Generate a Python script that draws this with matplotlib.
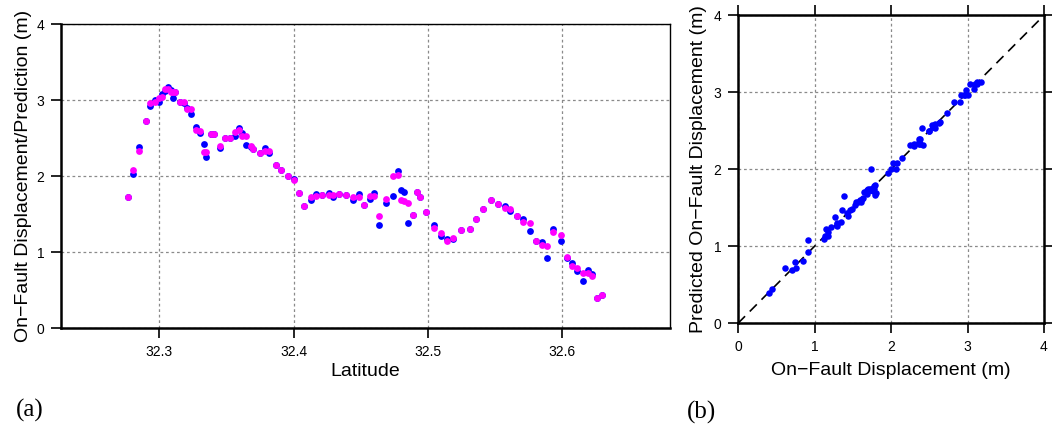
import numpy as np
import matplotlib
matplotlib.use('Agg')
from matplotlib import pyplot as plt

# latitude of each measurement, observed on-fault displacement, model prediction (m)
latitude = [32.2770, 32.2807, 32.2849, 32.2899, 32.2931, 32.2968, 32.3000, 32.3020,
            32.3045, 32.3067, 32.3090, 32.3104, 32.3115, 32.3154, 32.3186, 32.3210,
            32.3240, 32.3272, 32.3302, 32.3335, 32.3350, 32.3384, 32.3409, 32.3455,
            32.3490, 32.3525, 32.3562, 32.3592, 32.3620, 32.3645, 32.3680, 32.3700,
            32.3748, 32.3790, 32.3820, 32.3866, 32.3908, 32.3957, 32.4000, 32.4040,
            32.4080, 32.4131, 32.4170, 32.4210, 32.4260, 32.4290, 32.4340, 32.4388,
            32.4440, 32.4485, 32.4522, 32.4571, 32.4600, 32.4638, 32.4688, 32.4742,
            32.4776, 32.4801, 32.4825, 32.4850, 32.4886, 32.4915, 32.4940, 32.4987,
            32.5045, 32.5095, 32.5144, 32.5186, 32.5248, 32.5311, 32.5355, 32.5411,
            32.5467, 32.5524, 32.5569, 32.5609, 32.5660, 32.5710, 32.5757, 32.5806,
            32.5846, 32.5886, 32.5933, 32.5989, 32.6036, 32.6073, 32.6111, 32.6153,
            32.6188, 32.6220, 32.6260, 32.6294]
observed = [1.72, 2.02, 2.38, 2.73, 2.92, 3.00, 2.98, 3.08,
            3.12, 3.17, 3.13, 3.03, 3.10, 2.97, 2.96, 2.90,
            2.82, 2.64, 2.57, 2.42, 2.25, 2.55, 2.55, 2.37,
            2.50, 2.50, 2.53, 2.63, 2.57, 2.41, 2.38, 2.36,
            2.30, 2.37, 2.30, 2.15, 2.08, 2.00, 1.96, 1.78,
            1.60, 1.69, 1.76, 1.75, 1.78, 1.73, 1.76, 1.75,
            1.68, 1.76, 1.62, 1.70, 1.77, 1.36, 1.65, 1.74,
            2.07, 1.81, 1.79, 1.38, 1.49, 1.79, 1.73, 1.53,
            1.35, 1.21, 1.17, 1.17, 1.29, 1.30, 1.43, 1.57,
            1.68, 1.63, 1.61, 1.54, 1.47, 1.44, 1.27, 1.14,
            1.13, 0.92, 1.30, 1.15, 0.92, 0.85, 0.75, 0.62,
            0.76, 0.71, 0.40, 0.44]
predicted = [1.73, 2.08, 2.33, 2.73, 2.96, 2.97, 3.03, 3.04,
             3.14, 3.14, 3.11, 3.11, 3.11, 2.97, 2.97, 2.88,
             2.88, 2.61, 2.59, 2.32, 2.32, 2.55, 2.55, 2.40,
             2.50, 2.50, 2.58, 2.60, 2.53, 2.53, 2.40, 2.36,
             2.30, 2.33, 2.33, 2.15, 2.08, 2.00, 1.95, 1.78,
             1.60, 1.73, 1.74, 1.75, 1.75, 1.75, 1.76, 1.75,
             1.72, 1.72, 1.62, 1.74, 1.74, 1.47, 1.70, 2.00,
             2.01, 1.69, 1.67, 1.65, 1.49, 1.79, 1.73, 1.53,
             1.31, 1.25, 1.14, 1.19, 1.29, 1.30, 1.43, 1.57,
             1.68, 1.63, 1.58, 1.57, 1.47, 1.40, 1.38, 1.14,
             1.09, 1.08, 1.26, 1.23, 0.93, 0.81, 0.79, 0.72,
             0.72, 0.69, 0.40, 0.44]

plt.rcParams['font.family'] = ['Liberation Sans', 'DejaVu Sans']
plt.rcParams['axes.unicode_minus'] = True

fig = plt.figure(figsize=(10.52, 4.28), dpi=100)
W, H = 1052, 428

grid_kw = dict(color='#8a8a8a', linewidth=0.9, linestyle=(0, (2.2, 2.2)))

# (a) displacement along strike
ax1 = fig.add_axes([61 / W, 100 / H, 609 / W, 304 / H])
ax1.scatter(latitude, observed, s=24, color='#0000ff', linewidths=0, zorder=3)
ax1.scatter(latitude, predicted, s=24, color='#ff00ff', linewidths=0, zorder=4)
ax1.set_xlim(32.227, 32.680)
ax1.set_ylim(0, 4)
ax1.set_xticks([32.3, 32.4, 32.5, 32.6])
ax1.set_yticks([0, 1, 2, 3, 4])
ax1.set_axisbelow(True)
ax1.grid(True, **grid_kw)
for side in ['left', 'bottom']:
    ax1.spines[side].set_linewidth(1.8)
for side in ['top', 'right']:
    ax1.spines[side].set_linewidth(1.0)
ax1.tick_params(direction='out', length=7, width=1.2, labelsize=10, pad=5,
                top=False, right=False)
ax1.set_xlabel('Latitude', fontsize=14)
ax1.set_ylabel('On\u2212Fault Displacement/Prediction (m)', fontsize=14)
ax1.xaxis.set_label_coords(0.5, -0.115)
ax1.yaxis.set_label_coords(-0.048, 0.5)

# (b) observed vs predicted
ax2 = fig.add_axes([738 / W, 104.7 / H, 306 / W, 308 / H])
ax2.plot([0, 4], [0, 4], color='black', linewidth=1.2, linestyle=(0, (6, 4)), zorder=2)
ax2.scatter(observed, predicted, s=22, color='#0000ff', linewidths=0, zorder=3)
ax2.set_xlim(0, 4)
ax2.set_ylim(0, 4)
ax2.set_xticks([0, 1, 2, 3, 4])
ax2.set_yticks([0, 1, 2, 3, 4])
ax2.set_axisbelow(True)
ax2.grid(True, **grid_kw)
for side in ['left', 'bottom', 'top', 'right']:
    ax2.spines[side].set_linewidth(1.8)
ax2.tick_params(direction='out', length=7, width=1.2, labelsize=10, pad=5,
                top=True, right=True)
ax2.set_xlabel('On\u2212Fault Displacement (m)', fontsize=14)
ax2.set_ylabel('Predicted On\u2212Fault Displacement (m)', fontsize=14)
ax2.xaxis.set_label_coords(0.5, -0.125)
ax2.yaxis.set_label_coords(-0.101, 0.5)

fig.text(30 / W, 1 - 410 / H, '(a)', fontsize=18, family='Liberation Serif',
         ha='center', va='center')
fig.text(701 / W, 1 - 412 / H, '(b)', fontsize=18, family='Liberation Serif',
         ha='center', va='center')

fig.savefig('out.png', dpi=100)
